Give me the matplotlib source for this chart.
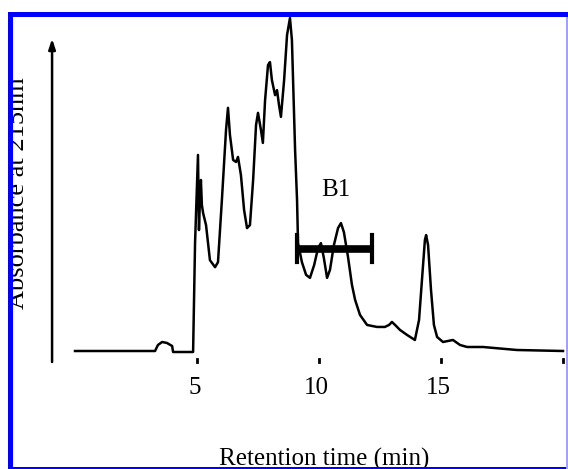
import matplotlib
matplotlib.use("Agg")
import matplotlib.pyplot as plt
from matplotlib.patches import Rectangle

# chromatogram trace (time in min, absorbance in arbitrary units)
time_min = [0.0, 3.28, 3.40, 3.57, 3.77, 3.98, 4.02, 4.84, 4.92, 5.04, 5.08, 5.12,
            5.16, 5.20, 5.25, 5.37, 5.53, 5.74, 5.86, 6.02, 6.19, 6.27, 6.35, 6.48,
            6.60, 6.68, 6.80, 6.93, 7.05, 7.17, 7.30, 7.42, 7.50, 7.62, 7.70, 7.79,
            7.91, 7.99, 8.07, 8.20, 8.28, 8.36, 8.44, 8.57, 8.69, 8.81, 8.89, 9.02,
            9.10, 9.14, 9.30, 9.47, 9.63, 9.80, 9.96, 10.08, 10.20, 10.33, 10.45,
            10.61, 10.78, 10.90, 11.02, 11.19, 11.35, 11.48, 11.68, 11.97, 12.17,
            12.38, 12.70, 12.87, 12.99, 13.16, 13.32, 13.61, 13.93, 14.10, 14.22,
            14.34, 14.39, 14.47, 14.59, 14.71, 14.84, 15.08, 15.29, 15.49, 15.78,
            16.07, 16.72, 18.11, 20.0]
absorbance = [0.0, 0.0, 1.8, 2.7, 2.4, 1.5, -0.3, -0.3, 32.3, 58.7, 36.2, 45.2,
              51.2, 43.7, 41.3, 37.7, 27.2, 25.1, 26.6, 45.2, 66.2, 72.8, 64.7, 57.2,
              56.6, 58.1, 52.7, 42.2, 36.8, 37.7, 51.2, 67.7, 71.3, 66.2, 62.3, 75.1,
              85.6, 86.5, 81.1, 76.6, 78.1, 73.7, 70.1, 81.1, 94.6, 99.7, 93.1, 60.2,
              45.2, 32.3, 26.6, 22.8, 21.9, 25.7, 30.8, 32.3, 27.8, 21.9, 24.3,
              31.7, 36.8, 38.3, 35.6, 28.1, 19.8, 15.3, 10.8, 7.8, 7.5,
              7.2, 7.2, 7.8, 8.7, 7.5, 6.3, 4.8, 3.3, 9.3, 21.3,
              33.2, 34.7, 31.7, 18.3, 7.8, 4.2, 2.7, 3.0, 3.3, 1.8,
              1.2, 1.2, 0.3, 0.0]

x_ticks = [5, 10, 15, 20]
x_tick_labels = ["5", "10", "15", ""]

# fraction B1
b1_start, b1_end, b1_level = 9.1, 12.17, 30.5

plt.rcParams['font.family'] = ['Liberation Serif', 'DejaVu Serif']

fig = plt.figure(figsize=(5.68, 4.69), dpi=100)
ax = fig.add_axes([0, 0, 1, 1])
ax.set_xlim(-3.074, 20.205)
ax.set_ylim(-35.33, 105.09)
ax.axis("off")

ax.plot(time_min, absorbance, color="black", linewidth=1.8, solid_joinstyle="round")

# tick marks and labels
for t, lab in zip(x_ticks, x_tick_labels):
    ax.plot([t, t], [-2.4, -3.4], color="black", linewidth=2)
    if lab:
        ax.text(t - 0.1, -11.1, lab, fontsize=18, ha="center", va="center")

# y arrow
ax.annotate("", xy=(-0.94, 93.5), xytext=(-0.94, -3.3),
            arrowprops=dict(arrowstyle="-|>,head_length=0.6,head_width=0.2",
                            color="black", linewidth=1.8, shrinkA=0, shrinkB=0))

# B1 fraction bar
ax.plot([b1_start, b1_end], [b1_level, b1_level], color="black", linewidth=5.5,
        solid_capstyle="butt")
for xe in (b1_start, b1_end):
    ax.plot([xe, xe], [b1_level - 4.0, b1_level + 4.2], color="black", linewidth=3)
ax.text(10.7, 48.2, "B1", fontsize=18, ha="center", va="center")

ax.text(10.2, -34.4, "Retention time (min)", fontsize=18, ha="center", va="baseline")
ax.text(-2.08, 47.2, "Absorbance at 215nm", fontsize=19, rotation=90,
        rotation_mode="anchor", ha="center", va="baseline")

# white margin and blue frame
W, H = 568.0, 469.0
def px_rect(x0, y0, w, h, color):
    fig.patches.append(Rectangle((x0 / W, 1 - (y0 + h) / H), w / W, h / H,
                                 transform=fig.transFigure, color=color,
                                 linewidth=0, zorder=5))

px_rect(0, 0, 8, 469, "white")
px_rect(0, 0, 568, 12, "white")
px_rect(8, 12, 5, 457, "#0000ff")
px_rect(8, 12, 560, 5, "#0000ff")
px_rect(8, 467, 560, 2, "#0000ff")
px_rect(566, 17, 2, 452, "#a0a0ff")

fig.savefig("out.png", dpi=100)
